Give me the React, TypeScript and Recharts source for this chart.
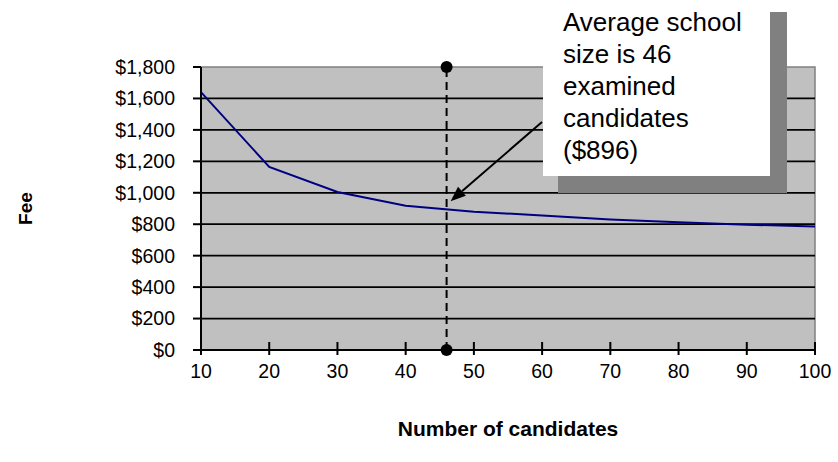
import React from 'react';
import {
  LineChart,
  Line,
  XAxis,
  YAxis,
  ReferenceArea,
  ReferenceLine,
  ReferenceDot,
  Label,
} from 'recharts';

// Fee per school by number of examined candidates
const candidates = [10, 20, 30, 40, 50, 60, 70, 80, 90, 100];
const fees = [1640, 1165, 1005, 918, 880, 855, 830, 812, 797, 785];

const candidateTicks = [10, 20, 30, 40, 50, 60, 70, 80, 90, 100];
const feeTicks = [0, 200, 400, 600, 800, 1000, 1200, 1400, 1600, 1800];
const gridFees = [200, 400, 600, 800, 1000, 1200, 1400, 1600];

const averageSize = 46;
const averageFee = 896;
const calloutLines = ['Average school', 'size is 46', 'examined', 'candidates', '($896)'];

const data = candidates.map((n, i) => ({ n, fee: fees[i] }));

const FONT = "Arial, 'Liberation Sans', sans-serif";
const W = 838;
const H = 462;
const TICK_FONT = 19.5;
const TITLE_FONT = 21;
const FEE_FONT = 19;
const CALLOUT_FONT = 26;

const formatFee = (v: number) => '$' + v.toLocaleString('en-US');

const XTick = (props: any) => {
  const { x, y, payload } = props;
  return (
    <g>
      <line x1={x} x2={x} y1={y - 8} y2={y + 5} stroke="#000" strokeWidth={2} />
      <text x={x} y={y + 28} textAnchor="middle" fontSize={TICK_FONT} fontFamily={FONT} fill="#000">
        {payload.value}
      </text>
    </g>
  );
};

// Callout box with drop shadow and an arrow to the average point
const Callout = (props: any) => {
  const { cx, cy } = props;
  const tipX = cx + 4;
  const tipY = cy - 8;
  const tailX = 542;
  const tailY = 122;
  const ang = Math.atan2(tipY - tailY, tipX - tailX);
  const len = 15;
  const half = 6;
  const bx = tipX - len * Math.cos(ang);
  const by = tipY - len * Math.sin(ang);
  const px = -Math.sin(ang) * half;
  const py = Math.cos(ang) * half;
  return (
    <g>
      <rect x={558} y={12} width={229} height={181} fill="#808080" />
      <rect x={543} y={-5} width={227} height={181} fill="#ffffff" />
      {calloutLines.map((t, i) => (
        <text key={t} x={563} y={31 + i * 32} fontSize={CALLOUT_FONT} fontFamily={FONT} fill="#000">
          {t}
        </text>
      ))}
      <line x1={tailX} y1={tailY} x2={bx} y2={by} stroke="#000" strokeWidth={2} />
      <polygon points={`${tipX},${tipY} ${bx + px},${by + py} ${bx - px},${by - py}`} fill="#000" />
    </g>
  );
};

export default function App() {
  return (
    <div style={{ position: 'absolute', left: 0, top: 0, background: '#fff' }}>
      <LineChart
        width={W}
        height={H}
        data={data}
        margin={{ top: 67, right: 23, left: 0, bottom: 0 }}
      >
        <XAxis
          dataKey="n"
          type="number"
          domain={[10, 100]}
          ticks={candidateTicks}
          interval={0}
          height={112}
          tickSize={0}
          tickMargin={0}
          tickLine={false}
          tick={<XTick />}
          axisLine={{ stroke: '#000', strokeWidth: 2 }}
        >
          <Label
            content={(p: any) => {
              const vb = p.viewBox;
              return (
                <text
                  x={vb.x + vb.width / 2}
                  y={vb.y + 86}
                  textAnchor="middle"
                  fontSize={TITLE_FONT}
                  fontWeight="bold"
                  fontFamily={FONT}
                  fill="#000"
                >
                  Number of candidates
                </text>
              );
            }}
          />
        </XAxis>
        <YAxis
          type="number"
          domain={[0, 1800]}
          ticks={feeTicks}
          interval={0}
          width={201}
          tickSize={8}
          tickMargin={18}
          tickFormatter={formatFee}
          tick={{ fontSize: TICK_FONT, fontFamily: FONT, fill: '#000' }}
          tickLine={{ stroke: '#000', strokeWidth: 2 }}
          axisLine={{ stroke: '#000', strokeWidth: 2 }}
        >
          <Label
            content={(p: any) => {
              const vb = p.viewBox;
              const lx = vb.x + 25;
              const ly = vb.y + vb.height / 2;
              return (
                <text
                  x={lx}
                  y={ly}
                  transform={`rotate(-90 ${lx} ${ly})`}
                  textAnchor="middle"
                  dominantBaseline="central"
                  fontSize={FEE_FONT}
                  fontWeight="bold"
                  fontFamily={FONT}
                  fill="#000"
                >
                  Fee
                </text>
              );
            }}
          />
        </YAxis>
        <ReferenceArea
          x1={10}
          x2={100}
          y1={0}
          y2={1800}
          fill="#C0C0C0"
          fillOpacity={1}
          stroke="#808080"
          strokeWidth={1.5}
          ifOverflow="visible"
        />
        {gridFees.map((v) => (
          <ReferenceLine key={v} y={v} stroke="#000" strokeWidth={1.8} />
        ))}
        <ReferenceLine
          x={averageSize}
          stroke="#000"
          strokeWidth={2}
          strokeDasharray="8 5"
        />
        <Line
          type="linear"
          dataKey="fee"
          stroke="#000080"
          strokeWidth={2}
          dot={false}
          isAnimationActive={false}
        />
        <ReferenceDot x={averageSize} y={1800} r={6} fill="#000" stroke="none" ifOverflow="visible" />
        <ReferenceDot x={averageSize} y={0} r={6} fill="#000" stroke="none" ifOverflow="visible" />
        <ReferenceDot
          x={averageSize}
          y={averageFee}
          r={0}
          ifOverflow="visible"
          shape={(p: any) => <Callout {...p} />}
        />
      </LineChart>
    </div>
  );
}
